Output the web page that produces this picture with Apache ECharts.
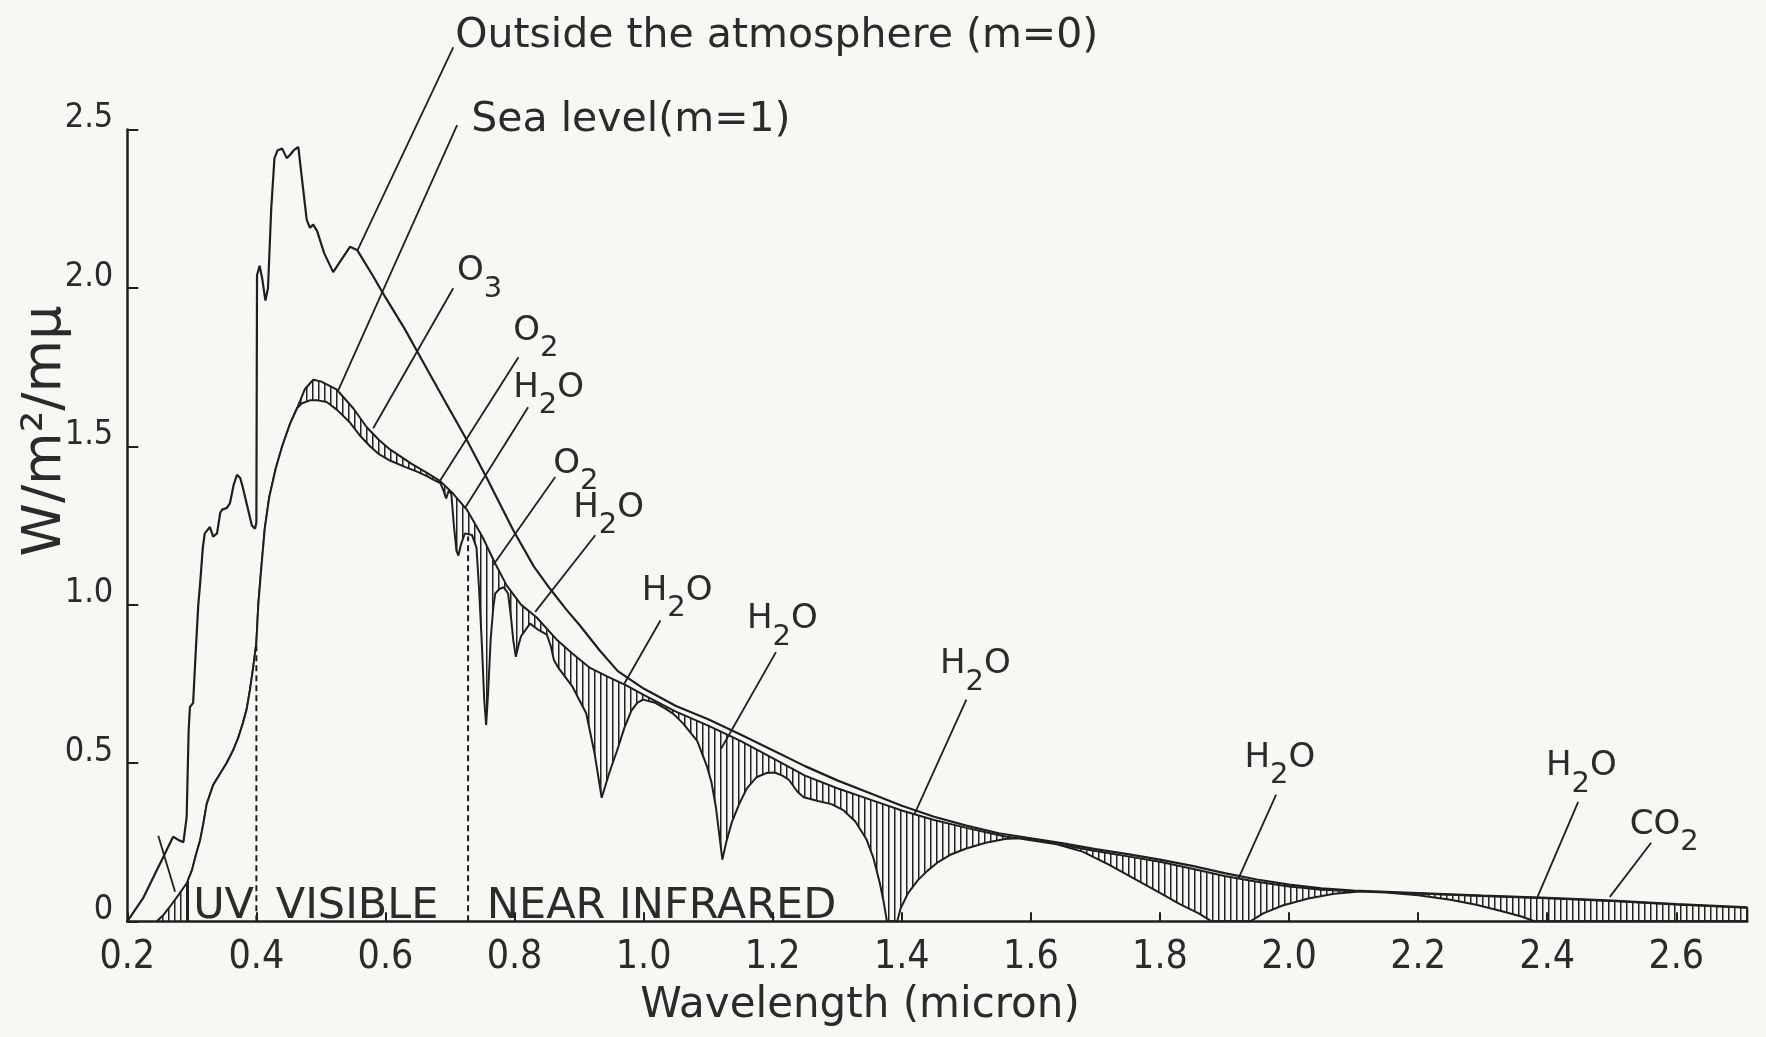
<!DOCTYPE html>
<html>
<head>
<meta charset="utf-8">
<script src="https://cdn.jsdelivr.net/npm/echarts@6/dist/echarts.min.js"></script>
<style>
html,body{margin:0;padding:0;background:#f7f7f4;}
#chart{width:1766px;height:1037px;}
</style>
</head>
<body>
<div id="chart"></div>
<script>
// ---------------- DATA ----------------
// Spectral irradiance outside the atmosphere (m=0): [wavelength micron, W/m2/mu]
const outsideAtmosphere = [
[0.200,0.000],[0.225,0.075],[0.255,0.200],[0.271,0.267],[0.279,0.257],[0.287,0.250],[0.292,0.330],[0.295,0.600],[0.297,0.676],[0.302,0.690],
[0.306,0.850],[0.310,1.000],[0.313,1.070],[0.317,1.180],[0.320,1.225],[0.328,1.245],[0.333,1.215],[0.339,1.225],[0.344,1.290],[0.347,1.300],
[0.354,1.305],[0.359,1.320],[0.365,1.380],[0.370,1.410],[0.375,1.400],[0.379,1.370],[0.386,1.310],[0.393,1.250],[0.398,1.240],[0.400,1.260],
[0.401,2.040],[0.405,2.070],[0.409,2.030],[0.414,1.960],[0.418,2.000],[0.423,2.250],[0.428,2.410],[0.433,2.435],[0.440,2.440],[0.447,2.410],
[0.452,2.420],[0.458,2.435],[0.465,2.445],[0.472,2.320],[0.478,2.215],[0.483,2.190],[0.488,2.200],[0.494,2.180],[0.505,2.110],[0.519,2.050],
[0.532,2.090],[0.545,2.130],[0.556,2.120],[0.580,2.040],[0.600,1.970],[0.630,1.870],[0.660,1.760],[0.690,1.650],[0.726,1.520],[0.757,1.400],
[0.798,1.235],[0.830,1.120],[0.855,1.050],[0.880,0.985],[0.901,0.935],[0.932,0.855],[0.960,0.790],[1.000,0.735],[1.050,0.680],[1.100,0.638],
[1.150,0.590],[1.200,0.540],[1.250,0.490],[1.300,0.445],[1.350,0.405],[1.400,0.365],[1.450,0.330],[1.500,0.302],[1.550,0.278],[1.600,0.262],
[1.650,0.246],[1.700,0.228],[1.750,0.212],[1.800,0.195],[1.850,0.175],[1.900,0.152],[1.950,0.132],[2.000,0.116],[2.050,0.104],[2.100,0.097],
[2.200,0.089],[2.300,0.081],[2.400,0.074],[2.500,0.065],[2.600,0.054],[2.710,0.044]
];

// Sea level (m=1) without molecular absorption bands (upper edge of hatched areas)
const seaLevelEnvelope = [
[0.246,0.000],[0.256,0.020],[0.266,0.046],[0.280,0.085],[0.292,0.120],[0.300,0.160],[0.307,0.215],[0.313,0.257],[0.318,0.310],[0.323,0.370],
[0.333,0.430],[0.344,0.467],[0.354,0.500],[0.364,0.540],[0.372,0.580],[0.379,0.625],[0.385,0.670],[0.390,0.730],[0.395,0.800],[0.400,0.880],
[0.403,1.000],[0.407,1.100],[0.413,1.240],[0.420,1.340],[0.430,1.430],[0.440,1.500],[0.452,1.570],[0.463,1.620],[0.475,1.680],[0.488,1.710],
[0.500,1.705],[0.524,1.680],[0.550,1.620],[0.571,1.560],[0.590,1.520],[0.607,1.490],[0.640,1.445],[0.665,1.415],[0.685,1.390],[0.705,1.350],
[0.726,1.300],[0.750,1.215],[0.770,1.130],[0.788,1.060],[0.810,1.000],[0.834,0.960],[0.865,0.890],[0.890,0.845],[0.917,0.800],[0.945,0.772],
[0.973,0.745],[1.000,0.715],[1.050,0.662],[1.100,0.618],[1.150,0.570],[1.200,0.515],[1.250,0.460],[1.300,0.420],[1.350,0.385],[1.400,0.350],
[1.450,0.320],[1.500,0.295],[1.560,0.268],[1.600,0.256],[1.650,0.240],[1.700,0.222],[1.750,0.205],[1.800,0.188],[1.850,0.166],[1.900,0.143],
[1.950,0.125],[2.000,0.110],[2.050,0.100],[2.100,0.095],[2.200,0.088],[2.300,0.080],[2.400,0.073],[2.500,0.064],[2.600,0.053],[2.710,0.043],
[2.710,0.000]
];

// Sea level (m=1) actual curve with absorption bands
const seaLevelActual = [
[0.294,0.000],[0.294,0.130],[0.300,0.160],[0.307,0.215],[0.313,0.257],[0.318,0.310],[0.323,0.370],[0.333,0.430],[0.344,0.467],[0.354,0.500],
[0.364,0.540],[0.372,0.580],[0.379,0.625],[0.385,0.670],[0.390,0.730],[0.395,0.800],[0.400,0.880],[0.403,1.000],[0.407,1.100],[0.413,1.240],
[0.420,1.340],[0.430,1.430],[0.440,1.500],[0.452,1.570],[0.463,1.620],[0.470,1.635],[0.483,1.645],[0.495,1.645],[0.509,1.640],[0.525,1.615],
[0.545,1.575],[0.560,1.535],[0.576,1.500],[0.590,1.475],[0.607,1.455],[0.630,1.435],[0.649,1.420],[0.665,1.405],[0.674,1.395],[0.685,1.384],
[0.690,1.360],[0.694,1.335],[0.698,1.360],[0.702,1.350],[0.706,1.250],[0.710,1.170],[0.713,1.155],[0.717,1.190],[0.723,1.225],[0.734,1.220],
[0.741,1.180],[0.745,1.050],[0.749,0.890],[0.753,0.700],[0.756,0.620],[0.759,0.720],[0.763,0.890],[0.767,0.990],[0.770,1.035],[0.777,1.050],
[0.783,1.055],[0.790,1.035],[0.795,0.950],[0.798,0.888],[0.802,0.835],[0.806,0.870],[0.810,0.900],[0.824,0.940],[0.837,0.920],[0.850,0.905],
[0.856,0.870],[0.861,0.825],[0.868,0.800],[0.890,0.740],[0.911,0.657],[0.924,0.530],[0.935,0.390],[0.947,0.470],[0.959,0.540],[0.970,0.610],
[0.981,0.665],[0.990,0.690],[0.999,0.700],[1.018,0.690],[1.035,0.670],[1.046,0.655],[1.061,0.625],[1.083,0.570],[1.098,0.490],[1.105,0.440],
[1.112,0.360],[1.118,0.260],[1.122,0.195],[1.128,0.250],[1.137,0.315],[1.148,0.370],[1.160,0.420],[1.175,0.455],[1.190,0.468],[1.203,0.470],
[1.215,0.460],[1.225,0.447],[1.238,0.410],[1.248,0.392],[1.270,0.380],[1.291,0.370],[1.310,0.350],[1.328,0.315],[1.345,0.260],[1.356,0.200],
[1.366,0.120],[1.372,0.060],[1.377,0.000],[1.393,0.000],[1.398,0.040],[1.410,0.090],[1.425,0.130],[1.440,0.160],[1.455,0.185],[1.475,0.210],
[1.500,0.230],[1.530,0.248],[1.560,0.260],[1.580,0.262],[1.600,0.256],[1.640,0.243],[1.680,0.220],[1.720,0.180],[1.760,0.135],[1.800,0.090],
[1.830,0.055],[1.860,0.025],[1.880,0.000],[1.940,0.000],[1.960,0.025],[1.990,0.050],[2.030,0.072],[2.070,0.087],[2.110,0.094],[2.150,0.091],
[2.200,0.082],[2.250,0.068],[2.290,0.052],[2.330,0.032],[2.360,0.015],[2.380,0.000],[2.710,0.000]
];

// Spectral region boundaries (dashed) and their heights on the sea-level curve
const bandEdgeX = [0.400, 0.728];
const bandEdgeTop = [0.880, 1.215];

// Spectral region names and where each name starts
const regionNames = ['UV', 'VISIBLE', 'NEAR INFRARED'];
const regionStartX = [0.302, 0.430, 0.757];

// Annotations: label, leader end on curve, leader top, label corner (data units)
const noteLabels = ['Outside the atmosphere (m=0)', 'Sea level(m=1)', 'O3', 'O2', 'H2O', 'O2', 'H2O', 'H2O', 'H2O', 'H2O', 'H2O', 'H2O', 'CO2', ''];
const noteCurveX = [0.557, 0.527, 0.581, 0.685, 0.723, 0.767, 0.832, 0.970, 1.120, 1.420, 1.922, 2.385, 2.497, 0.274];
const noteCurveY = [2.120, 1.677, 1.557, 1.393, 1.304, 1.125, 0.977, 0.750, 0.545, 0.340, 0.137, 0.077, 0.077, 0.093];
const noteTopX   = [0.705, 0.711, 0.705, 0.806, 0.821, 0.863, 0.925, 1.026, 1.205, 1.500, 1.980, 2.448, 2.561, 0.248];
const noteTopY   = [2.760, 2.514, 1.999, 1.781, 1.623, 1.403, 1.219, 0.950, 0.850, 0.700, 0.400, 0.377, 0.248, 0.270];
const noteLabelX = [0.708, 0.733, 0.711, 0.798, 0.798, 0.860, 0.891, 0.997, 1.160, 1.459, 1.931, 2.398, 2.528, 0];
const noteLabelY = [2.846, 2.582, 2.088, 1.899, 1.719, 1.479, 1.340, 1.078, 0.989, 0.847, 0.551, 0.525, 0.339, 0];

// Axis settings
const xMin = 0.2, xMax = 2.71, xStep = 0.2;
const yMin = 0, yMax = 2.5, yStep = 0.5;

// ---------------- STYLE ----------------
const BG = '#f7f7f4';
const INK = '#1f1f1f';
const TEXT = '#2b2b2b';
const FONT = "'DejaVu Sans', 'Liberation Sans', sans-serif";
const FONT_NARROW = "'DejaVu Sans Condensed', 'Liberation Sans Narrow', 'DejaVu Sans', sans-serif";

const hatch = document.createElement('canvas');
hatch.width = 6; hatch.height = 6;
(function(){ const c = hatch.getContext('2d'); c.fillStyle = '#222'; c.fillRect(0, 0, 1.5, 6); })();

function formulaRich(t) {
  // chemical formula -> rich text with subscript digits
  return t.replace(/([A-Za-z]+)|(\d+)/g, function(m, letters, digits){
    return letters ? '{m|' + letters + '}' : '{s|' + digits + '}';
  });
}
const richStyles = {
  m: {fontSize: 34, lineHeight: 38, verticalAlign: 'top', fontFamily: FONT, fill: TEXT},
  s: {fontSize: 29, lineHeight: 70, verticalAlign: 'middle', fontFamily: FONT, fill: TEXT}
};

const chart = echarts.init(document.getElementById('chart'), null, {renderer: 'canvas'});

const option = {
  animation: false,
  backgroundColor: BG,
  grid: {left: 127.3, right: 18.7, top: 129.6, bottom: 115.7, containLabel: false, outerBoundsMode: 'none'},
  xAxis: {
    type: 'value', min: xMin, max: xMax, interval: xStep, z: 10,
    axisLine: {show: true, onZero: false, lineStyle: {color: INK, width: 2.5}},
    axisTick: {show: true, inside: true, length: 9, lineStyle: {color: INK, width: 2}},
    axisLabel: {show: true, showMaxLabel: false, margin: 17, color: TEXT, fontSize: 39, fontFamily: FONT_NARROW,
      formatter: function(v){ return v.toFixed(1); }},
    splitLine: {show: false}
  },
  yAxis: {
    type: 'value', min: yMin, max: yMax, interval: yStep, z: 10,
    axisLine: {show: true, onZero: false, lineStyle: {color: INK, width: 2.5}},
    axisTick: {show: true, inside: true, length: 11, lineStyle: {color: INK, width: 2}},
    axisLabel: {show: true, margin: 14, color: TEXT, fontSize: 34, fontFamily: FONT_NARROW,
      verticalAlign: 'bottom', lineHeight: 22,
      formatter: function(v){ return v === 0 ? '0' : v.toFixed(1); }},
    splitLine: {show: false}
  },
  graphic: [
    {type: 'text', x: 860, y: 1006, z: 20,
     style: {text: 'Wavelength (micron)', align: 'center', verticalAlign: 'middle', font: '42px ' + FONT, fill: TEXT}},
    {type: 'text', x: 46, y: 431, rotation: Math.PI / 2, z: 20,
     style: {text: 'W/m²/mμ', align: 'center', verticalAlign: 'middle', font: '54px ' + FONT, fill: TEXT}}
  ],
  series: [
    {
      name: 'Sea level envelope', type: 'line', data: seaLevelEnvelope, showSymbol: false, silent: true, z: 2,
      lineStyle: {color: INK, width: 2},
      areaStyle: {color: {image: hatch, repeat: 'repeat'}, opacity: 1}
    },
    {
      name: 'Sea level (m=1)', type: 'line', data: seaLevelActual, showSymbol: false, silent: true, z: 3,
      lineStyle: {color: INK, width: 2},
      areaStyle: {color: BG, opacity: 1}
    },
    {
      name: 'Outside the atmosphere (m=0)', type: 'line', data: outsideAtmosphere, showSymbol: false, silent: true, z: 4,
      lineStyle: {color: INK, width: 2.2}
    },
    {
      name: 'band edges', type: 'custom', z: 5, silent: true, clip: false,
      data: bandEdgeX.map(function(x, i){ return [x, bandEdgeTop[i]]; }),
      renderItem: function(params, api){
        const top = api.coord([api.value(0), api.value(1)]);
        const bot = api.coord([api.value(0), 0]);
        return {type: 'line', shape: {x1: bot[0], y1: bot[1], x2: top[0], y2: top[1]},
                style: {stroke: INK, lineWidth: 2, lineDash: [6, 4]}};
      }
    },
    {
      name: 'regions', type: 'custom', z: 5, silent: true, clip: false,
      data: regionStartX.map(function(x){ return [x, 0]; }),
      renderItem: function(params, api){
        const p = api.coord([api.value(0), api.value(1)]);
        return {type: 'text', x: p[0], y: p[1] + 7,
                style: {text: regionNames[params.dataIndex], align: 'left', verticalAlign: 'bottom',
                        font: '43px ' + FONT, fill: TEXT}};
      }
    },
    {
      name: 'annotations', type: 'custom', z: 6, silent: true, clip: false,
      data: noteLabels.map(function(t, i){
        return [noteCurveX[i], noteCurveY[i], noteTopX[i], noteTopY[i], noteLabelX[i], noteLabelY[i]];
      }),
      renderItem: function(params, api){
        const i = params.dataIndex;
        const a = api.coord([api.value(0), api.value(1)]);
        const b = api.coord([api.value(2), api.value(3)]);
        const children = [{type: 'line', shape: {x1: a[0], y1: a[1], x2: b[0], y2: b[1]},
                           style: {stroke: INK, lineWidth: 1.8}}];
        const t = noteLabels[i];
        if (t) {
          const l = api.coord([api.value(4), api.value(5)]);
          if (i < 2) {
            children.push({type: 'text', x: l[0], y: l[1] - 4,
              style: {text: t, align: 'left', verticalAlign: 'top', font: '41px ' + FONT, fill: TEXT}});
          } else {
            children.push({type: 'text', x: l[0], y: l[1] - 6,
              style: {text: formulaRich(t), rich: richStyles, align: 'left', verticalAlign: 'top', fill: TEXT}});
          }
        }
        return {type: 'group', children: children};
      }
    }
  ]
};

chart.setOption(option);
</script>
</body>
</html>
